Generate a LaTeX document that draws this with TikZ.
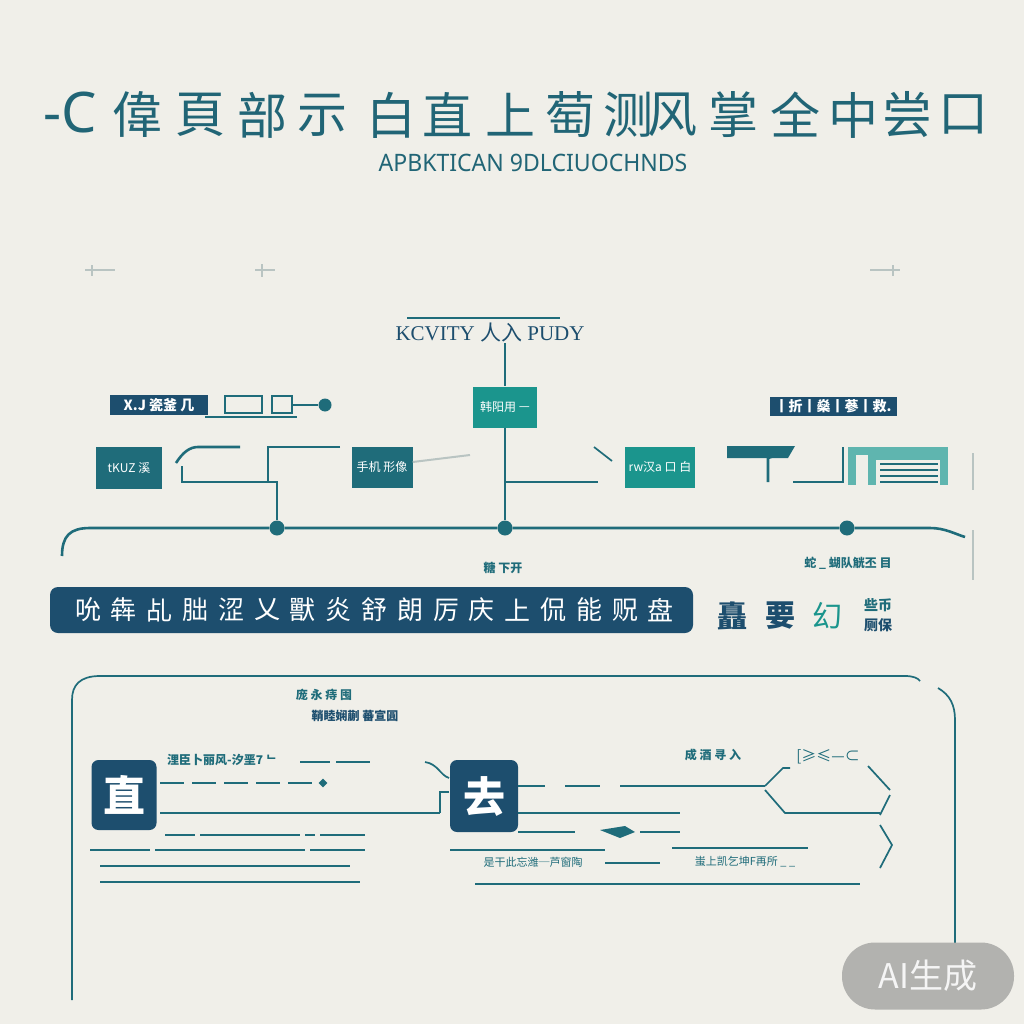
\documentclass[tikz,border=0pt]{standalone}
\usepackage{fontspec}
\newfontfamily\cjk{Noto Sans CJK SC}
\newfontfamily\serifl{Liberation Serif}
\newfontfamily\sansl{Noto Sans}
\usetikzlibrary{shapes.geometric}
\definecolor{bgpaper}{HTML}{F0EFE9}
\definecolor{navy}{HTML}{1D4E6E}
\definecolor{teal1}{HTML}{1B958D}
\definecolor{tealdk}{HTML}{1F6C7A}
\definecolor{inkteal}{HTML}{216576}
\definecolor{faint}{HTML}{B9C4C2}
\tikzset{%
    jdot/.style={inner sep=0pt,circle,fill=tealdk,minimum size=15pt},
    wire/.style={draw=tealdk,line width=2.6pt},
    thinwire/.style={draw=tealdk,line width=1.7pt},
    titlechar/.style={inner sep=0pt,text=inkteal,font=\cjk\fontsize{50}{50}\selectfont},
    navylab/.style={inner sep=0pt,fill=navy,text=white,font=\cjk\bfseries\fontsize{14}{14}\selectfont},
    tealbox/.style={inner sep=0pt,fill=tealdk,text=white,font=\cjk\fontsize{12}{12}\selectfont},
    bigbox/.style={inner sep=0pt,fill=navy,rounded corners=7pt,text=white,font=\cjk\bfseries\fontsize{42}{42}\selectfont},
    smalltxt/.style={inner sep=0pt,text=tealdk,font=\cjk\bfseries\fontsize{12}{12}\selectfont}
}

\begin{document}
\begin{tikzpicture}[x=1pt,y=-1pt]
    \path[fill=bgpaper] (0,0) rectangle (1024,1024);

    % title and subtitle
    \node[titlechar,font=\sansl\fontsize{56}{56}\selectfont] (t0) at (70,113) {-C};
    \foreach \cx/\ch in {137/偉,200/頁,262/部,322/示,391/白,447/直,510/上,570/萄,628/测,672/风,733/掌,795/全,853/中,907/尝,963/口}
        \node[titlechar] (t\cx) at (\cx,115) {\ch};
    \node[inner sep=0pt,text=inkteal,font=\sansl\fontsize{24}{24}\selectfont,xscale=0.96] (sub) at (533,163) {APBKTICAN 9DLCIUOCHNDS};

    % small marks
    \draw[faint,line width=2pt] (85,270) -- (115,270) (92,265) -- (92,276);
    \draw[faint,line width=2pt] (255,270) -- (275,270) (262,264) -- (262,277);
    \draw[faint,line width=2pt] (870,270) -- (900,270) (893,265) -- (893,276);

    % upper tree
    \node[inner sep=0pt,text=navy,font=\serifl\fontsize{21}{21}\selectfont] (act) at (490,333) {KCVITY {\cjk 人入} PUDY};
    \draw[thinwire,line width=1.2pt] (407,318) -- (560,318);
    \node[tealbox,fill=teal1,minimum width=64pt,minimum height=41pt] (hub) at (505,407) {韩阳用 ᅳ};
    \node[navylab,minimum width=98pt,minimum height=20pt] (lab1) at (159,405) {X.J 瓷釜 几};
    \node[navylab,minimum width=127pt,minimum height=19pt] (lab2) at (833,406) {丨折丨燊丨蔘丨救.};
    \node[tealbox,minimum width=66pt,minimum height=42pt] (b1) at (129,468) {tKUZ 溪};
    \node[tealbox,minimum width=61pt,minimum height=41pt] (b2) at (382,467) {手机 形像};
    \node[tealbox,fill=teal1,minimum width=70pt,minimum height=41pt] (b3) at (660,467) {rw汉a 口 白};
    \node[jdot] (d1) at (277,528) {};
    \node[jdot] (d2) at (505,528) {};
    \node[jdot] (d3) at (847,528) {};

    \draw[wire] (225,396) rectangle (262,413) (272,396) rectangle (292,413);
    \node[jdot,minimum size=13pt] (knob) at (325,405) {};
    \draw[wire] (292,405) -- (knob);
    \draw[thinwire] (205,417) -- (297,417);

    \draw[wire] (176,463) .. controls (183,452) and (190,447) .. (198,447) -- (240,447);
    \draw[wire] (340,447) -- (268,447) -- (268,482);
    \draw[wire] (182,466) -- (182,482) -- (277,482) -- (d1);
    \draw[faint,line width=2pt] (b2.east) ++(0,-5) -- (470,455);
    \draw[thinwire] (act.south) ++(15,0) -- (hub.north);
    \draw[thinwire,line width=2.2pt] (hub.south) -- (d2);
    \draw[thinwire,line width=2.2pt] (505,482) -- (598,482);
    \draw[thinwire] (594,447) -- (612,461);

    \fill[tealdk] (727,446) -- (795,446) -- (788,458) -- (727,458) -- cycle;
    \draw[wire] (786,452) -- (768,458) -- (768,482);
    \draw[wire] (793,482) -- (843,482) -- (843,447);
    \fill[teal1!70] (848,447) rectangle (948,485);
    \fill[bgpaper] (856,455) rectangle (868,485);
    \fill[bgpaper] (876,460) rectangle (940,485);
    \foreach \sy in {464,470,476,482}
        \draw[tealdk,line width=1.5pt] (880,\sy) -- (938,\sy);
    \draw[faint,line width=1.5pt] (973,453) -- (973,490) (973,530) -- (973,580);

    \draw[wire] (62,556) .. controls (62,536) and (70,528) .. (90,528) -- (d1) -- (d2) -- (d3) -- (930,528) .. controls (945,528) and (955,534) .. (965,537);

    % middle band
    \node[smalltxt] (m1) at (503,568) {糖 下开};
    \node[smalltxt] (m2) at (848,563) {蛇 \_ 蝴队觥丕 目};
    \fill[navy,rounded corners=8pt] (50,587) rectangle (693,633);
    \foreach \ch [count=\i from 0] in {吮,犇,乩,朏,涩,乂,獸,炎,舒,朗,厉,庆,上,侃,能,贶,盘}
        \node[inner sep=0pt,text=white,font=\cjk\fontsize{26}{26}\selectfont] (bar\i) at (88+35.8*\i,610) {\ch};
    \node[inner sep=0pt,text=navy,font=\cjk\bfseries\fontsize{30}{30}\selectfont] (g1) at (732,616) {矗};
    \node[inner sep=0pt,text=navy,font=\cjk\bfseries\fontsize{30}{30}\selectfont] (g2) at (780,616) {要};
    \node[inner sep=0pt,text=teal1,font=\cjk\fontsize{30}{30}\selectfont] (g3) at (827,616) {幻};
    \node[smalltxt,font=\cjk\bfseries\fontsize{14}{14}\selectfont] (g4) at (878,605) {些币};
    \node[smalltxt,text=navy,font=\cjk\bfseries\fontsize{14}{14}\selectfont] (g5) at (878,625) {厕保};

    % lower frame
    \draw[thinwire] (72,1000) -- (72,700) .. controls (72,685) and (80,676) .. (100,676) -- (905,676) .. controls (913,676) and (918,678) .. (920,681);
    \draw[thinwire] (938,688) .. controls (950,695) and (955,705) .. (955,720) -- (955,990) .. controls (955,998) and (948,1002) .. (942,1006);
    \node[smalltxt] (h1) at (324,695) {庞 永 痔 囤};
    \node[smalltxt,text=navy] (h2) at (355,716) {鞘睦娴蒯 蕃宣圓};

    \node[bigbox,minimum width=65pt,minimum height=70pt] (b4) at (124,795) {直};
    \node[bigbox,minimum width=68pt,minimum height=72pt] (b5) at (484,796) {去};
    \coordinate (b4r) at (160,813);
    \coordinate (b5l) at (440,813);

    \node[smalltxt] (r1) at (222,760) {浬臣卜丽风-汐垩7 ᄂ};
    \draw[thinwire] (300,762) -- (330,762) (336,762) -- (370,762);
    \draw[wire,dash pattern=on 24pt off 8pt] (160,783) -- (318,783);
    \node[jdot,diamond,minimum size=9pt] (r2) at (323,783) {};
    \draw[thinwire] (b4r) -- (b5l);
    \draw[thinwire] (425,762) .. controls (438,764) and (440,775) .. (449,778);
    \draw[thinwire] (449,792) -- (440,792) -- (b5l);
    \foreach \xa/\xb in {165/195,200/300,305/315,320/365}
        \draw[wire] (\xa,835) -- (\xb,835);
    \foreach \xa/\xb in {90/150,155/305,310/365}
        \draw[thinwire] (\xa,850) -- (\xb,850);
    \draw[thinwire] (100,866) -- (350,866);
    \draw[thinwire] (100,882) -- (360,882);

    \node[smalltxt] (r3) at (713,755) {成 酒 寻 入};
    \node[inner sep=0pt,text=tealdk,font=\cjk\fontsize{15}{15}\selectfont] (hx) at (828,757) {[≥≤—⊂};
    \draw[thinwire] (b5.east |- 0,786) -- (545,786) (565,786) -- (600,786) (620,786) -- (765,786);
    \draw[thinwire] (765,786) -- (783,768) -- (790,768);
    \draw[thinwire] (868,766) -- (890,790) (890,795) -- (880,815);
    \draw[thinwire] (765,790) -- (785,813) -- (880,813);
    \draw[thinwire] (880,825) -- (892,845) -- (880,868);
    \draw[thinwire] (b5.east |- 0,813) -- (680,813);
    \draw[thinwire] (b5.east |- 0,832) -- (575,832) (640,832) -- (680,832);
    \fill[tealdk] (600,830) -- (625,826) -- (635,832) -- (620,838) -- cycle;

    \draw[thinwire] (450,850) -- (605,850);
    \node[smalltxt,font=\cjk\fontsize{11}{11}\selectfont] (s1) at (533,862) {是干此忘潍─芦窗陶};
    \draw[thinwire] (605,863) -- (660,863);
    \node[smalltxt,font=\cjk\fontsize{11}{11}\selectfont] (s2) at (745,862) {蚩上凯乞坤F再所 \_ \_};
    \draw[thinwire] (672,848) -- (808,848);
    \draw[thinwire] (475,884) -- (860,884);

    % badge
    \node[fill=gray!55!bgpaper,rounded corners=33pt,minimum width=172pt,minimum height=67pt,inner sep=0pt,text=white!92!gray,font=\cjk\fontsize{34}{34}\selectfont] (ai) at (928,976) {AI生成};
\end{tikzpicture}
\end{document}
